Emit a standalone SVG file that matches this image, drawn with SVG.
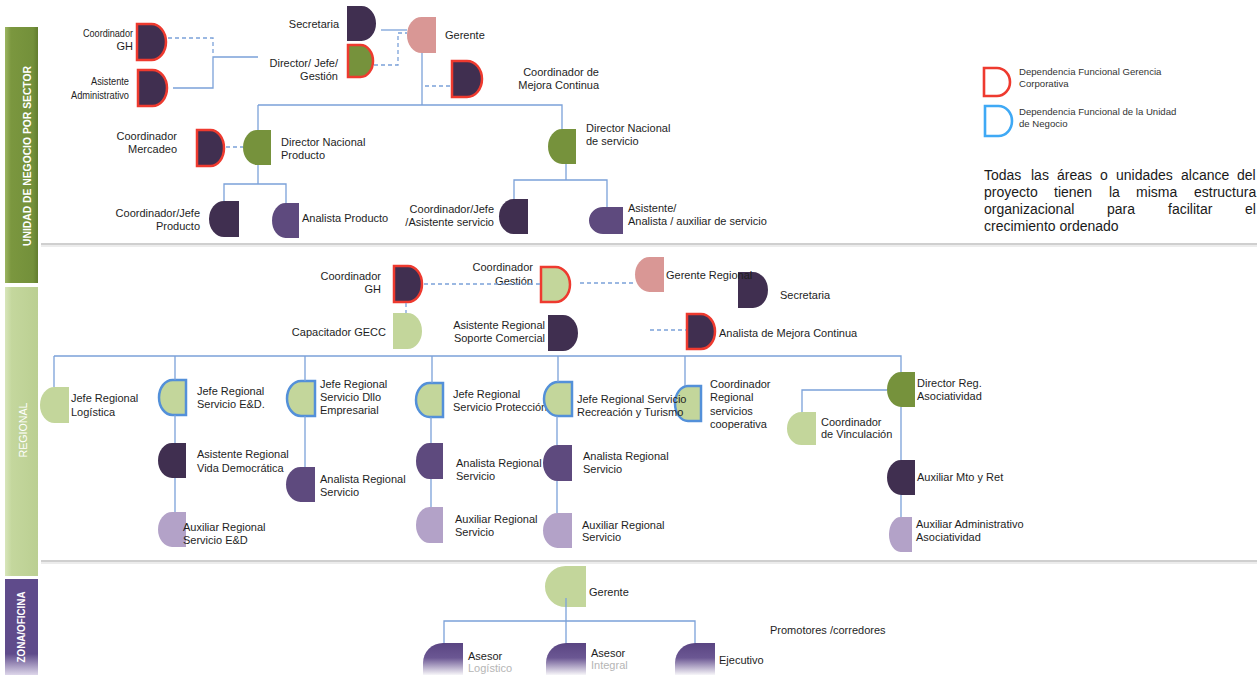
<svg xmlns="http://www.w3.org/2000/svg" width="1257" height="675" viewBox="0 0 1257 675">
<style>
text{font-family:"Liberation Sans",Arial,sans-serif;font-size:11px;fill:#1e1e1e}
.r{text-anchor:end}
.dk{fill:#402f50}.md{fill:#5e4a7e}.lp{fill:#b3a2c8}.gr{fill:#76923c}.lg{fill:#c3d69b}.pk{fill:#d99795}
.rs{stroke:#ee3a2f;stroke-width:2.5}.bs{stroke:#5390d9;stroke-width:2.5}
.ln{fill:none;stroke:#7ba1d9;stroke-width:1.3}
.dl{fill:none;stroke:#7ba1d9;stroke-width:1.3;stroke-dasharray:4 3}
.bt{fill:#fff;text-anchor:middle}
.lgd{font-size:9.6px;fill:#333}
.par{font-size:14px;fill:#1a1a1a}
.fd{fill:#b5b5b5}
.sep{stroke:#cfcfcf;stroke-width:2}
.sep2{stroke:#ececec;stroke-width:2}
</style>
<defs>
<linearGradient id="gBand1" x1="0" y1="0" x2="1" y2="0"><stop offset="0" stop-color="#9cb562"/><stop offset="0.18" stop-color="#7b973f"/><stop offset="0.85" stop-color="#73903a"/><stop offset="1" stop-color="#627d2e"/></linearGradient>
<linearGradient id="gBand2" x1="0" y1="0" x2="1" y2="0"><stop offset="0" stop-color="#d8e6bb"/><stop offset="0.2" stop-color="#c4d79d"/><stop offset="1" stop-color="#bbcf92"/></linearGradient>
<linearGradient id="gBand3" x1="0" y1="0" x2="0" y2="1"><stop offset="0" stop-color="#5f4b8b"/><stop offset="0.78" stop-color="#5f4b8b"/><stop offset="1" stop-color="#ddd6ea"/></linearGradient>
<linearGradient id="gFade" x1="0" y1="0" x2="0" y2="1"><stop offset="0" stop-color="#5a4582"/><stop offset="0.45" stop-color="#6b5793"/><stop offset="1" stop-color="#ffffff"/></linearGradient>
</defs>
<rect width="1257" height="675" fill="#fff"/>

<g id="bands">
<rect x="5" y="27" width="33" height="256" fill="url(#gBand1)"/>
<text class="bt" transform="translate(31,156) rotate(-90)" font-size="15" font-weight="bold" textLength="180" lengthAdjust="spacingAndGlyphs">UNIDAD DE NEGOCIO POR SECTOR</text>
<rect x="5" y="287" width="33" height="289" fill="url(#gBand2)"/>
<text class="bt" transform="translate(27,430) rotate(-90)" font-size="13" textLength="55" lengthAdjust="spacingAndGlyphs">REGIONAL</text>
<rect x="5" y="579" width="33" height="96" fill="url(#gBand3)"/>
<text class="bt" transform="translate(25,627) rotate(-90)" font-size="11.5" font-weight="bold" textLength="71" lengthAdjust="spacingAndGlyphs">ZONA/OFICINA</text>
</g>

<g id="separators">
<line class="sep" x1="41" y1="244" x2="1257" y2="244"/>
<line class="sep2" x1="41" y1="246" x2="1257" y2="246"/>
<line class="sep" x1="41" y1="561" x2="1257" y2="561"/>
<line class="sep2" x1="41" y1="563" x2="1257" y2="563"/>
</g>

<!-- top section -->
<g id="n-coord-gh"><path class="dk rs" d="M137,24 H151.5 A14.5,18 0 0 1 151.5,60 H137 Z"/><text class="r" x="133" y="37" textLength="50" lengthAdjust="spacingAndGlyphs">Coordinador</text><text class="r" x="133" y="50">GH</text></g>
<g id="n-asistente-adm"><path class="dk rs" d="M138,70 H152.5 A14.5,18 0 0 1 152.5,106 H138 Z"/><text class="r" x="129" y="85" textLength="38" lengthAdjust="spacingAndGlyphs">Asistente</text><text class="r" x="129" y="99" textLength="58" lengthAdjust="spacingAndGlyphs">Administrativo</text></g>
<g id="n-secretaria"><path class="dk" d="M347,6 H361.5 A14.5,17.5 0 0 1 361.5,41 H347 Z"/><text class="r" x="339" y="28">Secretaria</text></g>
<g id="n-director-gestion"><path class="gr rs" d="M348,45 H360.5 A12.5,16 0 0 1 360.5,77 H348 Z"/><text class="r" x="338" y="67">Director/ Jefe/</text><text class="r" x="338" y="80">Gestión</text></g>
<g id="n-gerente"><path class="pk" d="M436,17 V53 H421.5 A14.5,18 0 0 1 421.5,17 Z"/><text x="445" y="39">Gerente</text></g>
<g id="n-coord-mejora"><path class="dk rs" d="M452,61 H467 A15,18 0 0 1 467,97 H452 Z"/><text class="r" x="599" y="76">Coordinador de</text><text class="r" x="599" y="89">Mejora Continua</text></g>
<g id="n-coord-mercadeo"><path class="dk rs" d="M197,130 H210.5 A13.5,18 0 0 1 210.5,166 H197 Z"/><text class="r" x="177" y="140">Coordinador</text><text class="r" x="177" y="153">Mercadeo</text></g>
<g id="n-dir-producto"><path class="gr" d="M271,130 V165 H257 A14,17.5 0 0 1 257,130 Z"/><text x="281" y="146">Director Nacional</text><text x="281" y="159">Producto</text></g>
<g id="n-coord-jefe-producto"><path class="dk" d="M239,201 V237 H224 A15,18 0 0 1 224,201 Z"/><text class="r" x="200" y="217">Coordinador/Jefe</text><text class="r" x="200" y="230">Producto</text></g>
<g id="n-analista-producto"><path class="md" d="M299,203 V238 H285.5 A13.5,17.5 0 0 1 285.5,203 Z"/><text x="302" y="222">Analista Producto</text></g>
<g id="n-dir-servicio"><path class="gr" d="M576,129 V164 H562 A14,17.5 0 0 1 562,129 Z"/><text x="586" y="132">Director Nacional</text><text x="586" y="145">de servicio</text></g>
<g id="n-coord-jefe-servicio"><path class="dk" d="M528,199 V234 H513.5 A14.5,17.5 0 0 1 513.5,199 Z"/><text class="r" x="494" y="213">Coordinador/Jefe</text><text class="r" x="494" y="226">/Asistente servicio</text></g>
<g id="n-asistente-servicio"><path class="md" d="M623,207 V234 H603 A14,13.5 0 0 1 603,207 Z"/><text x="628" y="212">Asistente/</text><text x="628" y="225">Analista / auxiliar de servicio</text></g>

<g id="legend">
<path fill="#fff" stroke="#ee3a2f" stroke-width="2.6" d="M984,68 H997 A13,14 0 0 1 997,96 H984 Z"/>
<text class="lgd" x="1019" y="74.5">Dependencia Funcional Gerencia</text>
<text class="lgd" x="1019" y="86.5">Corporativa</text>
<path fill="#fff" stroke="#3fa9f5" stroke-width="2.6" d="M985,106 H998.5 A13.5,15 0 0 1 998.5,136 H985 Z"/>
<text class="lgd" x="1019" y="114.5">Dependencia Funcional de la Unidad</text>
<text class="lgd" x="1019" y="126.5">de Negocio</text>
<text class="par" y="180"><tspan x="984">Todas</tspan> <tspan x="1031">las</tspan> <tspan x="1057">áreas</tspan> <tspan x="1100">o</tspan> <tspan x="1116">unidades</tspan> <tspan x="1181">alcance</tspan> <tspan x="1237">del</tspan></text>
<text class="par" y="197"><tspan x="984">proyecto</tspan> <tspan x="1054">tienen</tspan> <tspan x="1109">la</tspan> <tspan x="1136">misma</tspan> <tspan x="1194">estructura</tspan></text>
<text class="par" y="214"><tspan x="984">organizacional</tspan> <tspan x="1107">para</tspan> <tspan x="1168">facilitar</tspan> <tspan x="1245">el</tspan></text>
<text class="par" x="984" y="231">crecimiento ordenado</text>
</g>

<!-- regional -->
<g id="r-coord-gh"><path class="dk rs" d="M394,266 H408 A14,18 0 0 1 408,302 H394 Z"/><text class="r" x="381" y="280">Coordinador</text><text class="r" x="381" y="293">GH</text></g>
<g id="r-capacitador"><path class="lg" d="M393,313 H407.5 A14.5,18 0 0 1 407.5,349 H393 Z"/><text class="r" x="386" y="336">Capacitador GECC</text></g>
<g id="r-coord-gestion"><path class="lg rs" d="M541,267 H555.5 A14.5,17.5 0 0 1 555.5,302 H541 Z"/><text class="r" x="533" y="271">Coordinador</text><text class="r" x="533" y="284.5">Gestión</text></g>
<g id="r-secretaria"><path class="dk" d="M738,272 H753 A15,18 0 0 1 753,308 H738 Z"/><text x="780" y="299">Secretaria</text></g>
<g id="r-gerente"><path class="pk" d="M664,257 V292 H649.5 A14.5,17.5 0 0 1 649.5,257 Z"/><text x="666" y="279">Gerente Regional</text></g>
<g id="r-asistente-soporte"><path class="dk" d="M548,315 H563 A15,18 0 0 1 563,351 H548 Z"/><text class="r" x="545" y="329">Asistente Regional</text><text class="r" x="545" y="342">Soporte Comercial</text></g>
<g id="r-analista-mejora"><path class="dk rs" d="M687,314 H701 A14,17.5 0 0 1 701,349 H687 Z"/><text x="719" y="337">Analista de Mejora Continua</text></g>
<g id="r-jefe-logistica"><path class="lg" d="M69,387 V423 H54.5 A14.5,18 0 0 1 54.5,387 Z"/><text x="71" y="401.5">Jefe Regional</text><text x="71" y="415.5">Logística</text></g>
<g id="r-jefe-ed"><path class="lg bs" d="M186,380 V415 H172.5 A13.5,17.5 0 0 1 172.5,380 Z"/><text x="197" y="394.5">Jefe Regional</text><text x="197" y="408">Servicio E&amp;D.</text></g>
<g id="r-asistente-vida"><path class="dk" d="M186,443 V478 H172 A14,17.5 0 0 1 172,443 Z"/><text x="197" y="458">Asistente Regional</text><text x="197" y="471.5">Vida Democrática</text></g>
<g id="r-auxiliar-ed"><path class="lp" d="M186,512 V547 H172 A14,17.5 0 0 1 172,512 Z"/><text x="183" y="530.5">Auxiliar Regional</text><text x="183" y="544">Servicio E&amp;D</text></g>
<g id="r-jefe-dllo"><path class="lg bs" d="M315,381 V416 H301 A14,17.5 0 0 1 301,381 Z"/><text x="320" y="388">Jefe Regional</text><text x="320" y="401">Servicio Dllo</text><text x="320" y="414">Empresarial</text></g>
<g id="r-analista-dllo"><path class="md" d="M315,467 V502 H300.5 A14.5,17.5 0 0 1 300.5,467 Z"/><text x="320" y="483">Analista Regional</text><text x="320" y="495.5">Servicio</text></g>
<g id="r-jefe-proteccion"><path class="lg bs" d="M443,383 V417 H429.5 A13.5,17 0 0 1 429.5,383 Z"/><text x="453" y="398">Jefe Regional</text><text x="453" y="410.5">Servicio Protección</text></g>
<g id="r-analista-proteccion"><path class="md" d="M443,443 V479 H429.5 A13.5,18 0 0 1 429.5,443 Z"/><text x="456" y="466.5">Analista Regional</text><text x="456" y="480">Servicio</text></g>
<g id="r-auxiliar-proteccion"><path class="lp" d="M443,507 V543 H429.5 A13.5,18 0 0 1 429.5,507 Z"/><text x="455" y="523">Auxiliar Regional</text><text x="455" y="536">Servicio</text></g>
<g id="r-coord-cooperativa"><path class="lg bs" d="M701,386 V421 H688 A13,17.5 0 0 1 688,386 Z"/><text x="710" y="388">Coordinador</text><text x="710" y="401">Regional</text><text x="710" y="414.5">servicios</text><text x="710" y="428">cooperativa</text></g>
<g id="r-jefe-recreacion"><path class="lg bs" d="M572,382 V416 H558 A14,17 0 0 1 558,382 Z"/><text x="577" y="403">Jefe Regional Servicio</text><text x="577" y="416">Recreación y Turismo</text></g>
<g id="r-analista-recreacion"><path class="md" d="M572,445 V481 H557.5 A14.5,18 0 0 1 557.5,445 Z"/><text x="583" y="460">Analista Regional</text><text x="583" y="473">Servicio</text></g>
<g id="r-auxiliar-recreacion"><path class="lp" d="M572,513 V548 H557.5 A14.5,17.5 0 0 1 557.5,513 Z"/><text x="582" y="529">Auxiliar Regional</text><text x="582" y="541">Servicio</text></g>
<g id="r-dir-asociatividad"><path class="gr" d="M915,372 V407 H901 A14,17.5 0 0 1 901,372 Z"/><text x="917" y="387">Director Reg.</text><text x="917" y="400">Asociatividad</text></g>
<g id="r-coord-vinculacion"><path class="lg" d="M816,412 V445 H801.5 A14.5,16.5 0 0 1 801.5,412 Z"/><text x="821" y="425.5">Coordinador</text><text x="821" y="438">de Vinculación</text></g>
<g id="r-auxiliar-mto"><path class="dk" d="M915,460 V495 H901 A14,17.5 0 0 1 901,460 Z"/><text x="917" y="481">Auxiliar Mto y Ret</text></g>
<g id="r-auxiliar-adm-asoc"><path class="lp" d="M912,517 V552 H900.5 A11.5,17.5 0 0 1 900.5,517 Z"/><text x="916" y="528">Auxiliar Administrativo</text><text x="916" y="540.5">Asociatividad</text></g>

<!-- zona -->
<g id="z-gerente"><path class="lg" d="M586,566 V607 H565.5 A20.5,20.5 0 0 1 565.5,566 Z"/><text x="589" y="596">Gerente</text></g>
<g id="z-promotores"><text x="770" y="634">Promotores /corredores</text></g>
<g id="z-asesor-logistico"><path fill="url(#gFade)" d="M463,643 V676 H423 V663 A20,20 0 0 1 443,643 Z"/><text x="468" y="660">Asesor</text><text class="fd" x="468" y="672">Logístico</text></g>
<g id="z-asesor-integral"><path fill="url(#gFade)" d="M586,643 V676 H546 V663 A20,20 0 0 1 566,643 Z"/><text x="591" y="657">Asesor</text><text class="fd" x="591" y="669">Integral</text></g>
<g id="z-ejecutivo"><path fill="url(#gFade)" d="M715,643 V676 H675 V663 A20,20 0 0 1 695,643 Z"/><text x="719" y="664">Ejecutivo</text></g>

<g id="connectors">
<path class="ln" d="M173,88 H213 V57 H258"/>
<path class="ln" d="M381,30 H407"/>
<path class="ln" d="M422,53 V105"/>
<path class="ln" d="M258,105 H562 V129"/>
<path class="ln" d="M258,105 V130"/>
<path class="ln" d="M258,165 V184"/>
<path class="ln" d="M224,201 V184 H286 V203"/>
<path class="ln" d="M566,164 V180"/>
<path class="ln" d="M514,199 V180 H607 V207"/>
<path class="dl" d="M168,38 H213 V55"/>
<path class="dl" d="M374,65 H398 V33 H407"/>
<path class="dl" d="M425,86 H450"/>
<path class="dl" d="M226,147 H243"/>
<path class="ln" d="M54,356 H901 V372"/>
<path class="ln" d="M54,356 V387 M175,356 V380 M305,356 V381 M432,356 V383 M558,356 V382 M685,356 V386"/>
<path class="ln" d="M175,415 V443 M175,478 V512"/>
<path class="ln" d="M305,416 V467"/>
<path class="ln" d="M431,417 V443 M431,479 V507"/>
<path class="ln" d="M557,416 V445 M557,481 V513"/>
<path class="ln" d="M901,407 V460 M901,495 V517"/>
<path class="ln" d="M887,390 H802 V412"/>
<path class="dl" d="M424,284 H540"/>
<path class="dl" d="M406,303 V313"/>
<path class="dl" d="M580,283 H635"/>
<path class="dl" d="M650,330 H686"/>
<path class="ln" d="M566,598 V643"/>
<path class="ln" d="M444,643 V621 H695 V643"/>
</g>
</svg>
